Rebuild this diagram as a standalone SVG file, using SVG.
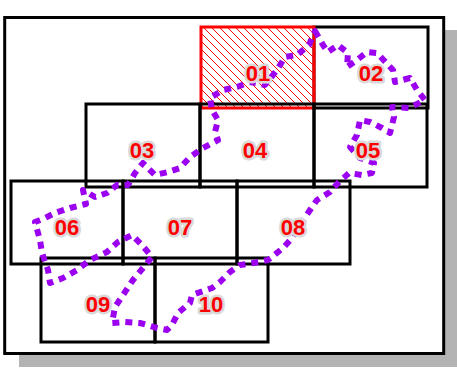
<svg xmlns="http://www.w3.org/2000/svg" width="457" height="372" viewBox="0 0 457 372">
<style>
.cell{fill:none;stroke:#000;stroke-width:3}
.sel{fill:url(#hatch);stroke:#ff0000;stroke-width:3}
.lbl{font-family:"Liberation Sans",Arial,sans-serif;font-size:22px;font-weight:bold;fill:#ff0000;stroke:#d9d9d9;stroke-width:5;stroke-linejoin:round;paint-order:stroke;text-anchor:middle}
.route{fill:none;stroke:#9b00f0;stroke-width:6;stroke-dasharray:7 6;stroke-linejoin:round}
</style>
<defs>
<pattern id="hatch" patternUnits="userSpaceOnUse" width="8" height="8">
<path d="M0,0 L8,8 M-1,7 L1,9 M7,-1 L9,1" stroke="#ff0000" stroke-width="1"/>
</pattern>
</defs>
<rect x="19" y="30" width="440" height="337" fill="#b3b3b3"/>
<rect x="4.7" y="17.5" width="439" height="336" fill="#fff" stroke="#000" stroke-width="3"/>
<g id="nodes">
<g id="node02"><rect class="cell" x="314" y="27" width="114" height="81"/></g>
<g id="node01"><rect class="sel" x="201" y="27" width="113" height="81"/></g>
<g id="node03"><rect class="cell" x="86" y="104" width="114" height="83"/></g>
<g id="node04"><rect class="cell" x="200" y="104" width="114" height="83"/></g>
<g id="node05"><rect class="cell" x="314" y="104" width="113" height="83"/></g>
<g id="node06"><rect class="cell" x="11" y="181" width="112" height="83"/></g>
<g id="node07"><rect class="cell" x="123" y="181" width="114" height="83"/></g>
<g id="node08"><rect class="cell" x="237" y="181" width="113" height="83"/></g>
<g id="node09"><rect class="cell" x="41" y="258" width="114" height="84"/></g>
<g id="node10"><rect class="cell" x="155" y="258" width="113" height="84"/></g>
</g>
<g id="connectors">
<path class="route" d="M315,31 L323,45 L328,52 L338,45 L348,53 L347,67 L357,60 L367,52 L377,53 L393,70 L395,82 L410,78 L417,90 L425,100 L409,108 L392,107 L394,117 L390,133 L382,128 L370,122 L360,120 L357,135 L350,147 L360,158 L374,163 L372,173 L362,175 L349,173 L339,182 L330,192 L317,200 L308,213 L300,225 L292,238 L283,248 L268,260 L253,263 L240,265 L230,272 L220,282 L212,288 L192,295 L190,303 L178,313 L172,325 L167,330 L157,328 L140,323 L125,322 L112,323 L115,307 L123,295 L133,280 L143,268 L152,257 L142,245 L132,235 L118,242 L107,252 L90,260 L77,270 L63,278 L50,283 L48,270 L42,253 L40,240 L35,222 L45,218 L55,213 L70,208 L86,204 L83,190 L95,197 L107,193 L117,185 L128,185 L135,173 L143,163 L155,175 L168,172 L180,168 L190,157 L203,148 L218,140 L215,132 L218,120 L212,110 L210,98 L223,90 L237,87 L250,82 L265,85 L277,70 L285,57 L297,55 L309,45 Z"/>
</g>
<g id="labels">
<text id="label01" class="lbl" x="258" y="81">01</text>
<text id="label02" class="lbl" x="371" y="81">02</text>
<text id="label03" class="lbl" x="142" y="158">03</text>
<text id="label04" class="lbl" x="255" y="158">04</text>
<text id="label05" class="lbl" x="368" y="158">05</text>
<text id="label06" class="lbl" x="67" y="235">06</text>
<text id="label07" class="lbl" x="180" y="235">07</text>
<text id="label08" class="lbl" x="293" y="235">08</text>
<text id="label09" class="lbl" x="98" y="312">09</text>
<text id="label10" class="lbl" x="211" y="312">10</text>
</g>
</svg>
